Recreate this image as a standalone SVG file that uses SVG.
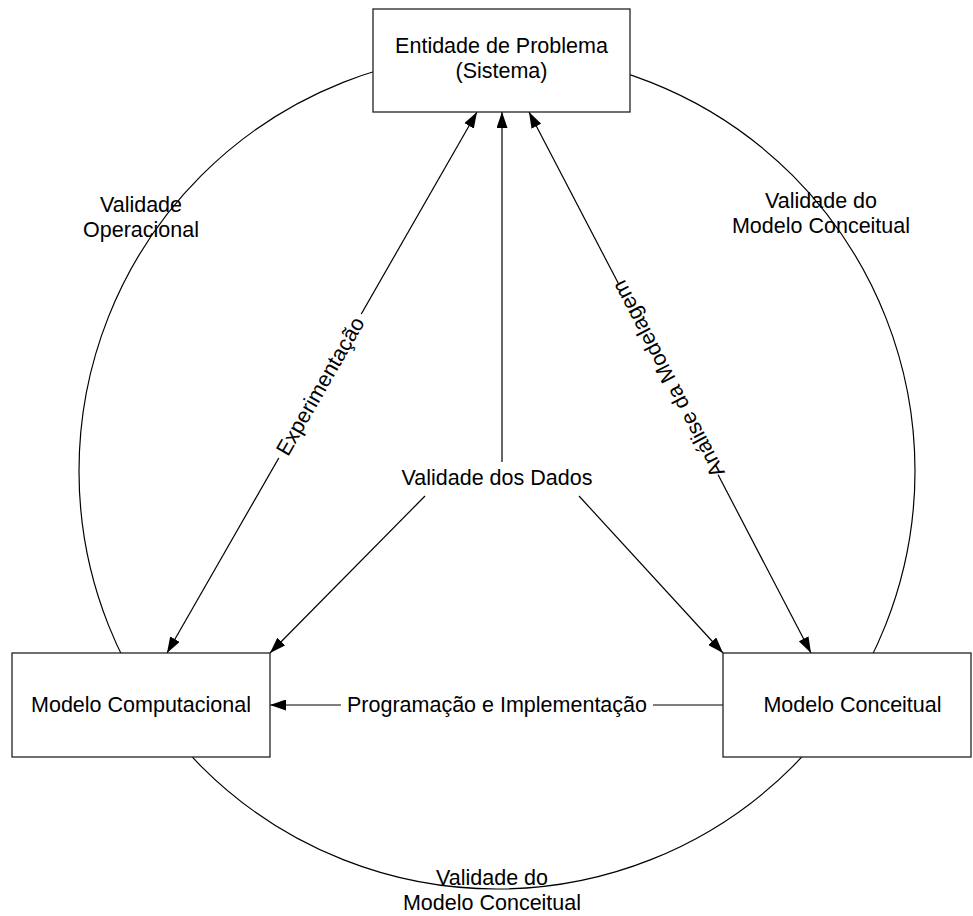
<svg xmlns="http://www.w3.org/2000/svg" width="973" height="916" viewBox="0 0 973 916">
<style>
text { font-family: "Liberation Sans", Arial, sans-serif; font-size: 21.5px; fill: #000; text-anchor: middle; }
.box { fill: #fff; stroke: #222; stroke-width: 1.3; }
.ln { stroke: #000; stroke-width: 1.2; fill: none; }
.bg { fill: #fff; }
</style>
<defs>
<marker id="ah" markerUnits="userSpaceOnUse" markerWidth="16" markerHeight="11" refX="16" refY="5.5" orient="auto-start-reverse">
<path d="M0,0 L16,5.5 L0,11 z" fill="#000"/>
</marker>
</defs>
<rect width="973" height="916" fill="#fff"/>
<g id="cycle">
<circle cx="497" cy="471" r="418" class="ln"/>
</g>
<g id="connectors">
<line class="ln" x1="477" y1="112" x2="167" y2="653" marker-start="url(#ah)" marker-end="url(#ah)"/>
<line class="ln" x1="502" y1="462" x2="502" y2="112" marker-end="url(#ah)"/>
<line class="ln" x1="529" y1="112" x2="811" y2="653" marker-start="url(#ah)" marker-end="url(#ah)"/>
<line class="ln" x1="425" y1="496" x2="270" y2="653" marker-end="url(#ah)"/>
<line class="ln" x1="579" y1="496" x2="723" y2="653" marker-end="url(#ah)"/>
<line class="ln" x1="723" y1="705" x2="270" y2="705" marker-end="url(#ah)"/>
</g>
<g id="labels">
<g transform="translate(320,386) rotate(-60.2)">
<rect class="bg" x="-83" y="-12" width="166" height="24"/>
<text x="0" y="7.5">Experimentação</text>
</g>
<g transform="translate(668,379) rotate(-117.5)">
<rect class="bg" x="-108" y="-12" width="216" height="24"/>
<text x="0" y="7.5">Análise da Modelagem</text>
</g>
<rect class="bg" x="341" y="693" width="312" height="24"/>
<text x="497" y="712">Programação e Implementação</text>
<text x="497" y="485">Validade dos Dados</text>
<text x="141" y="212">Validade</text>
<text x="141" y="237">Operacional</text>
<text x="821" y="208">Validade do</text>
<text x="821" y="233">Modelo Conceitual</text>
<text x="492" y="885">Validade do</text>
<text x="492" y="910">Modelo Conceitual</text>
</g>
<g id="entidade">
<rect class="box" x="373" y="9" width="257" height="103"/>
<text x="501.5" y="53">Entidade de Problema</text>
<text x="501.5" y="78">(Sistema)</text>
</g>
<g id="computacional">
<rect class="box" x="12" y="653" width="258" height="104"/>
<text x="141" y="712">Modelo Computacional</text>
</g>
<g id="conceitual">
<rect class="box" x="723" y="653" width="248" height="104"/>
<text x="852.5" y="712">Modelo Conceitual</text>
</g>
</svg>
